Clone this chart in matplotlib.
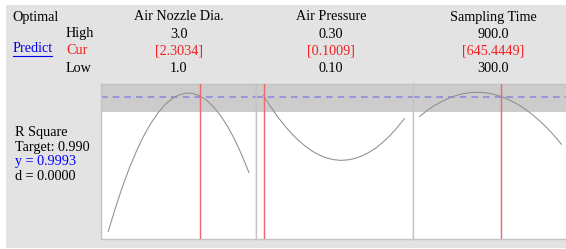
import matplotlib.pyplot as plt
from matplotlib.patches import Rectangle

# dados (otimizador de resposta)
factors = ['Air Nozzle Dia.', 'Air Pressure', 'Sampling Time']
high_labels = ['3.0', '0.30', '900.0']
cur_labels = ['[2.3034]', '[0.1009]', '[645.4449]']
low_labels = ['1.0', '0.10', '300.0']
cur_values = [2.3034, 0.1009, 645.4449]

nozzle_x = [1.0, 1.1, 1.2, 1.3, 1.4, 1.5, 1.6, 1.7, 1.8, 1.9, 2.0,
            2.1, 2.2, 2.3, 2.4, 2.5, 2.6, 2.7, 2.8, 2.9, 3.0]
nozzle_y = [0.9175, 0.9316, 0.9445, 0.9560, 0.9662, 0.9752, 0.9828, 0.9891, 0.9942, 0.9979, 1.0003,
            1.0015, 1.0013, 0.9998, 0.9971, 0.9929, 0.9876, 0.9809, 0.9730, 0.9637, 0.9532]

pressure_x = [0.10, 0.11, 0.12, 0.13, 0.14, 0.15, 0.16, 0.17, 0.18, 0.19, 0.20,
              0.21, 0.22, 0.23, 0.24, 0.25, 0.26, 0.27, 0.28, 0.29, 0.30]
pressure_y = [1.0000, 0.9933, 0.9871, 0.9817, 0.9768, 0.9726, 0.9690, 0.9660, 0.9637, 0.9620, 0.9610,
              0.9606, 0.9609, 0.9618, 0.9633, 0.9655, 0.9682, 0.9718, 0.9758, 0.9806, 0.9859]

time_x = [300, 330, 360, 390, 420, 450, 480, 510, 540, 570, 600,
          630, 660, 690, 720, 750, 780, 810, 840, 870, 900]
time_y = [0.9873, 0.9907, 0.9937, 0.9961, 0.9982, 0.9998, 1.0010, 1.0017, 1.0020, 1.0018, 1.0012,
          1.0001, 0.9986, 0.9966, 0.9943, 0.9914, 0.9881, 0.9843, 0.9802, 0.9755, 0.9704]

response = 'R Square'
target = 0.990
y_pred = 0.9993
d_value = 0.0000

curves_x = [nozzle_x, pressure_x, time_x]
curves_y = [nozzle_y, pressure_y, time_y]

W, H = 566, 249
fig = plt.figure(figsize=(W / 100, H / 100), dpi=100)
fig.patch.set_facecolor('white')
plt.rcParams['font.family'] = ['Liberation Serif', 'DejaVu Serif']

# fundo cinza
fig.patches.append(Rectangle((6 / W, 1 / H), 560 / W, 243 / H, transform=fig.transFigure,
                             facecolor='#e3e3e3', edgecolor='none', zorder=-10))

# posições dos painéis em pixels (esquerda, direita)
panels = [(101, 256), (256, 413), (413, 568)]
pads = [(0.104, 0.10), (0.0107, 0.0124), (27.7, 27.7)]
y_lo, y_hi = 0.91298, 1.00684
bottom_px, top_px = 238.7, 84.3

for i in range(3):
    left, right = panels[i]
    ax = fig.add_axes([left / W, (H - bottom_px) / H, (right - left) / W, (bottom_px - top_px) / H])
    ax.set_facecolor('white')
    ax.axhspan(target, y_hi, color='#cccccc', lw=0, zorder=1)
    ax.axhline(y_pred, color='#8c8cdc', lw=1.2, dashes=(4, 3), zorder=2)
    ax.plot(curves_x[i], curves_y[i], color='#8e8e8e', lw=0.75, zorder=3)
    ax.axvline(cur_values[i], color='#ea6a6a', lw=1.0, zorder=4)
    ax.set_xlim(curves_x[i][0] - pads[i][0], curves_x[i][-1] + pads[i][1])
    ax.set_ylim(y_lo, y_hi)
    ax.set_xticks([])
    ax.set_yticks([])
    for s in ax.spines.values():
        s.set_color('#c4c4c4')
        s.set_linewidth(1.0)

# cabeçalho
def px(x, y):
    return x / W, 1 - y / H

fs = 10.2
fig.text(*px(12, 17), 'Optimal', fontsize=fs, va='center', ha='left')
fig.text(*px(66, 34), 'High', fontsize=fs, va='center', ha='left')
fig.text(*px(66, 51), 'Cur', fontsize=fs, va='center', ha='left', color='#f02020')
fig.text(*px(66, 68), 'Low', fontsize=fs, va='center', ha='left')
fig.text(*px(13, 49), 'Predict', fontsize=fs, va='center', ha='left', color='#0000ee')
fig.add_artist(plt.Line2D([13 / W, 52 / W], [1 - 56 / H, 1 - 56 / H], color='#0000ee', lw=0.8))

centers = [179, 331, 493]
for i in range(3):
    fig.text(*px(centers[i], 17), factors[i], fontsize=fs, va='center', ha='center')
    fig.text(*px(centers[i], 34), high_labels[i], fontsize=fs, va='center', ha='center')
    fig.text(*px(centers[i], 51), cur_labels[i], fontsize=fs, va='center', ha='center', color='#f02020')
    fig.text(*px(centers[i], 68), low_labels[i], fontsize=fs, va='center', ha='center')

# resposta
fig.text(*px(15, 132), response, fontsize=fs, va='center', ha='left')
fig.text(*px(15, 147), 'Target: %.3f' % target, fontsize=fs, va='center', ha='left')
fig.text(*px(15, 162), 'y = %.4f' % y_pred, fontsize=fs, va='center', ha='left', color='#0000ff')
fig.text(*px(15, 177), 'd = %.4f' % d_value, fontsize=fs, va='center', ha='left')

plt.savefig('out.png', dpi=100)
